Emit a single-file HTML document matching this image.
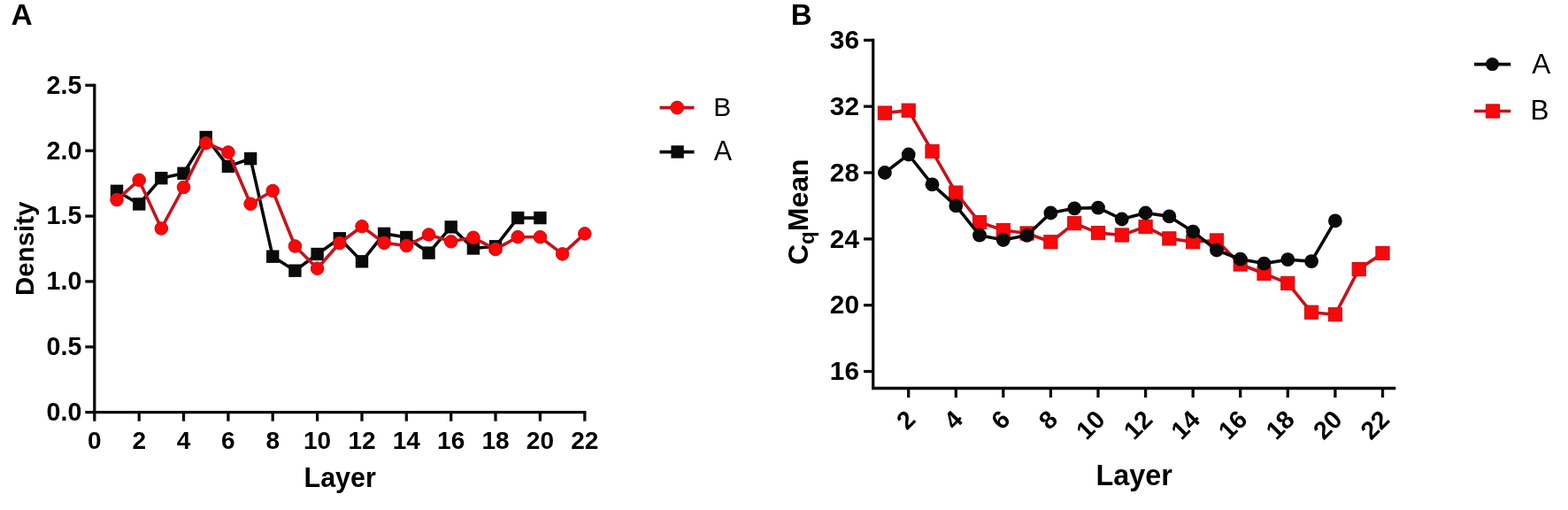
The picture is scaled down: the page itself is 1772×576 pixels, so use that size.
<!DOCTYPE html>
<html><head><meta charset="utf-8"><title>Density and Cq Mean by Layer</title>
<style>
html,body{margin:0;padding:0;background:#fff;}
body{width:1772px;height:576px;overflow:hidden;}
svg{display:block;}
svg text{font-family:"Liberation Sans", Arial, Helvetica, sans-serif;fill:#000;}
</style></head><body>
<svg width="1772" height="576" viewBox="0 0 1772 576">
<rect width="1772" height="576" fill="#fff"/>
<text x="12.6" y="28.1" font-size="33.5" font-weight="bold">A</text>
<text x="893.8" y="28.2" font-size="33" font-weight="bold">B</text>
<g stroke="#0a0a0a" stroke-width="3.3" fill="none" stroke-linecap="butt">
<line x1="106.8" y1="94.7" x2="106.8" y2="475.7"/>
<line x1="96.3" y1="465.7" x2="662.4" y2="465.7"/>
<line x1="96.3" y1="391.8" x2="106.8" y2="391.8"/>
<line x1="96.3" y1="317.9" x2="106.8" y2="317.9"/>
<line x1="96.3" y1="244.1" x2="106.8" y2="244.1"/>
<line x1="96.3" y1="170.2" x2="106.8" y2="170.2"/>
<line x1="96.3" y1="96.3" x2="106.8" y2="96.3"/>
<line x1="157.2" y1="465.7" x2="157.2" y2="475.7"/>
<line x1="207.5" y1="465.7" x2="207.5" y2="475.7"/>
<line x1="257.9" y1="465.7" x2="257.9" y2="475.7"/>
<line x1="308.2" y1="465.7" x2="308.2" y2="475.7"/>
<line x1="358.6" y1="465.7" x2="358.6" y2="475.7"/>
<line x1="409.0" y1="465.7" x2="409.0" y2="475.7"/>
<line x1="459.3" y1="465.7" x2="459.3" y2="475.7"/>
<line x1="509.7" y1="465.7" x2="509.7" y2="475.7"/>
<line x1="560.0" y1="465.7" x2="560.0" y2="475.7"/>
<line x1="610.4" y1="465.7" x2="610.4" y2="475.7"/>
<line x1="660.8" y1="465.7" x2="660.8" y2="475.7"/>
</g>
<g font-size="28.6" font-weight="bold" text-anchor="end">
<text x="92.3" y="475.0">0.0</text>
<text x="92.3" y="401.1">0.5</text>
<text x="92.3" y="327.2">1.0</text>
<text x="92.3" y="253.4">1.5</text>
<text x="92.3" y="179.5">2.0</text>
<text x="92.3" y="105.6">2.5</text>
</g>
<g font-size="28" font-weight="bold" text-anchor="middle">
<text x="106.8" y="506.5">0</text>
<text x="157.2" y="506.5">2</text>
<text x="207.5" y="506.5">4</text>
<text x="257.9" y="506.5">6</text>
<text x="308.2" y="506.5">8</text>
<text x="358.6" y="506.5">10</text>
<text x="409.0" y="506.5">12</text>
<text x="459.3" y="506.5">14</text>
<text x="509.7" y="506.5">16</text>
<text x="560.0" y="506.5">18</text>
<text x="610.4" y="506.5">20</text>
<text x="660.8" y="506.5">22</text>
</g>
<text x="384.2" y="549.9" font-size="30.5" font-weight="bold" text-anchor="middle">Layer</text>
<text transform="translate(38.3 280.8) rotate(-90)" font-size="29.4" font-weight="bold" text-anchor="middle">Density</text>
<polyline points="132.0,215.8 157.2,230.5 182.3,201.2 207.5,195.8 232.7,155.0 257.9,187.9 283.1,179.2 308.2,289.7 333.4,305.7 358.6,287.0 383.8,269.2 409.0,295.3 434.1,263.9 459.3,268.0 484.5,285.6 509.7,256.4 534.9,280.5 560.0,278.3 585.2,246.1 610.4,246.1" fill="none" stroke="#0a0a0a" stroke-width="3.6" stroke-linejoin="round"/>
<rect x="124.8" y="208.6" width="14.4" height="14.4" fill="#0a0a0a"/>
<rect x="150.0" y="223.3" width="14.4" height="14.4" fill="#0a0a0a"/>
<rect x="175.1" y="194.0" width="14.4" height="14.4" fill="#0a0a0a"/>
<rect x="200.3" y="188.6" width="14.4" height="14.4" fill="#0a0a0a"/>
<rect x="225.5" y="147.8" width="14.4" height="14.4" fill="#0a0a0a"/>
<rect x="250.7" y="180.7" width="14.4" height="14.4" fill="#0a0a0a"/>
<rect x="275.9" y="172.0" width="14.4" height="14.4" fill="#0a0a0a"/>
<rect x="301.0" y="282.5" width="14.4" height="14.4" fill="#0a0a0a"/>
<rect x="326.2" y="298.5" width="14.4" height="14.4" fill="#0a0a0a"/>
<rect x="351.4" y="279.8" width="14.4" height="14.4" fill="#0a0a0a"/>
<rect x="376.6" y="262.1" width="14.4" height="14.4" fill="#0a0a0a"/>
<rect x="401.8" y="288.1" width="14.4" height="14.4" fill="#0a0a0a"/>
<rect x="426.9" y="256.7" width="14.4" height="14.4" fill="#0a0a0a"/>
<rect x="452.1" y="260.8" width="14.4" height="14.4" fill="#0a0a0a"/>
<rect x="477.3" y="278.4" width="14.4" height="14.4" fill="#0a0a0a"/>
<rect x="502.5" y="249.2" width="14.4" height="14.4" fill="#0a0a0a"/>
<rect x="527.7" y="273.3" width="14.4" height="14.4" fill="#0a0a0a"/>
<rect x="552.8" y="271.1" width="14.4" height="14.4" fill="#0a0a0a"/>
<rect x="578.0" y="238.9" width="14.4" height="14.4" fill="#0a0a0a"/>
<rect x="603.2" y="238.9" width="14.4" height="14.4" fill="#0a0a0a"/>
<polyline points="132.0,225.6 157.2,203.4 182.3,258.0 207.5,211.5 232.7,161.7 257.9,172.0 283.1,230.3 308.2,215.5 333.4,278.0 358.6,303.2 383.8,274.5 409.0,255.7 434.1,274.4 459.3,277.5 484.5,265.0 509.7,272.8 534.9,268.3 560.0,281.6 585.2,267.7 610.4,267.7 635.6,286.9 660.8,263.9" fill="none" stroke="#c4141c" stroke-width="3.6" stroke-linejoin="round"/>
<circle cx="132.0" cy="225.6" r="7.3" fill="#f80808" stroke="#d00c14" stroke-width="1"/>
<circle cx="157.2" cy="203.4" r="7.3" fill="#f80808" stroke="#d00c14" stroke-width="1"/>
<circle cx="182.3" cy="258.0" r="7.3" fill="#f80808" stroke="#d00c14" stroke-width="1"/>
<circle cx="207.5" cy="211.5" r="7.3" fill="#f80808" stroke="#d00c14" stroke-width="1"/>
<circle cx="232.7" cy="161.7" r="7.3" fill="#f80808" stroke="#d00c14" stroke-width="1"/>
<circle cx="257.9" cy="172.0" r="7.3" fill="#f80808" stroke="#d00c14" stroke-width="1"/>
<circle cx="283.1" cy="230.3" r="7.3" fill="#f80808" stroke="#d00c14" stroke-width="1"/>
<circle cx="308.2" cy="215.5" r="7.3" fill="#f80808" stroke="#d00c14" stroke-width="1"/>
<circle cx="333.4" cy="278.0" r="7.3" fill="#f80808" stroke="#d00c14" stroke-width="1"/>
<circle cx="358.6" cy="303.2" r="7.3" fill="#f80808" stroke="#d00c14" stroke-width="1"/>
<circle cx="383.8" cy="274.5" r="7.3" fill="#f80808" stroke="#d00c14" stroke-width="1"/>
<circle cx="409.0" cy="255.7" r="7.3" fill="#f80808" stroke="#d00c14" stroke-width="1"/>
<circle cx="434.1" cy="274.4" r="7.3" fill="#f80808" stroke="#d00c14" stroke-width="1"/>
<circle cx="459.3" cy="277.5" r="7.3" fill="#f80808" stroke="#d00c14" stroke-width="1"/>
<circle cx="484.5" cy="265.0" r="7.3" fill="#f80808" stroke="#d00c14" stroke-width="1"/>
<circle cx="509.7" cy="272.8" r="7.3" fill="#f80808" stroke="#d00c14" stroke-width="1"/>
<circle cx="534.9" cy="268.3" r="7.3" fill="#f80808" stroke="#d00c14" stroke-width="1"/>
<circle cx="560.0" cy="281.6" r="7.3" fill="#f80808" stroke="#d00c14" stroke-width="1"/>
<circle cx="585.2" cy="267.7" r="7.3" fill="#f80808" stroke="#d00c14" stroke-width="1"/>
<circle cx="610.4" cy="267.7" r="7.3" fill="#f80808" stroke="#d00c14" stroke-width="1"/>
<circle cx="635.6" cy="286.9" r="7.3" fill="#f80808" stroke="#d00c14" stroke-width="1"/>
<circle cx="660.8" cy="263.9" r="7.3" fill="#f80808" stroke="#d00c14" stroke-width="1"/>
<line x1="745.5" y1="121.6" x2="784.5" y2="121.6" stroke="#c4141c" stroke-width="3.6"/>
<circle cx="765.2" cy="121.6" r="7.4" fill="#f80808" stroke="#d00c14" stroke-width="1"/>
<text x="806.2" y="130.9" font-size="30">B</text>
<line x1="745.5" y1="171.6" x2="784.5" y2="171.6" stroke="#0a0a0a" stroke-width="3.6"/>
<rect x="758.4" y="164.3" width="14.4" height="14.4" fill="#0a0a0a"/>
<text x="806.8" y="181.2" font-size="30.5">A</text>
<g stroke="#0a0a0a" stroke-width="3.3" fill="none" stroke-linecap="butt">
<path d="M986.7 43.8 V438.5 H1577.3"/>
<line x1="976.0" y1="45.4" x2="986.7" y2="45.4"/>
<line x1="976.0" y1="120.2" x2="986.7" y2="120.2"/>
<line x1="976.0" y1="195.0" x2="986.7" y2="195.0"/>
<line x1="976.0" y1="269.9" x2="986.7" y2="269.9"/>
<line x1="976.0" y1="344.7" x2="986.7" y2="344.7"/>
<line x1="976.0" y1="419.5" x2="986.7" y2="419.5"/>
<line x1="1026.7" y1="438.5" x2="1026.7" y2="449.0"/>
<line x1="1080.3" y1="438.5" x2="1080.3" y2="449.0"/>
<line x1="1133.8" y1="438.5" x2="1133.8" y2="449.0"/>
<line x1="1187.4" y1="438.5" x2="1187.4" y2="449.0"/>
<line x1="1241.0" y1="438.5" x2="1241.0" y2="449.0"/>
<line x1="1294.6" y1="438.5" x2="1294.6" y2="449.0"/>
<line x1="1348.2" y1="438.5" x2="1348.2" y2="449.0"/>
<line x1="1401.7" y1="438.5" x2="1401.7" y2="449.0"/>
<line x1="1455.3" y1="438.5" x2="1455.3" y2="449.0"/>
<line x1="1508.9" y1="438.5" x2="1508.9" y2="449.0"/>
<line x1="1562.5" y1="438.5" x2="1562.5" y2="449.0"/>
</g>
<g font-size="29.8" font-weight="bold" text-anchor="end">
<text x="971" y="55.0">36</text>
<text x="971" y="129.8">32</text>
<text x="971" y="204.6">28</text>
<text x="971" y="279.5">24</text>
<text x="971" y="354.3">20</text>
<text x="971" y="429.1">16</text>
</g>
<g font-size="28.5" font-weight="bold" text-anchor="end">
<text transform="translate(1036.2 475.5) rotate(-45)">2</text>
<text transform="translate(1089.8 475.5) rotate(-45)">4</text>
<text transform="translate(1143.3 475.5) rotate(-45)">6</text>
<text transform="translate(1196.9 475.5) rotate(-45)">8</text>
<text transform="translate(1250.5 475.5) rotate(-45)">10</text>
<text transform="translate(1304.1 475.5) rotate(-45)">12</text>
<text transform="translate(1357.7 475.5) rotate(-45)">14</text>
<text transform="translate(1411.2 475.5) rotate(-45)">16</text>
<text transform="translate(1464.8 475.5) rotate(-45)">18</text>
<text transform="translate(1518.4 475.5) rotate(-45)">20</text>
<text transform="translate(1572.0 475.5) rotate(-45)">22</text>
</g>
<text x="1281.7" y="547.7" font-size="32.4" font-weight="bold" text-anchor="middle">Layer</text>
<text transform="translate(913 299) rotate(-90)" font-size="32" font-weight="bold">C<tspan font-size="24" dy="6.5">q</tspan><tspan dy="-6.5">Mean</tspan></text>
<polyline points="999.9,127.6 1026.7,124.7 1053.5,170.9 1080.3,217.6 1107.0,251.0 1133.8,260.0 1160.6,263.5 1187.4,273.3 1214.2,252.2 1241.0,263.1 1267.8,265.5 1294.6,256.1 1321.4,269.4 1348.2,273.3 1375.0,271.5 1401.7,298.5 1428.5,309.0 1455.3,319.9 1482.1,352.8 1508.9,355.2 1535.7,304.1 1562.5,285.9" fill="none" stroke="#c4141c" stroke-width="3.6" stroke-linejoin="round"/>
<rect x="992.3" y="120.0" width="15.2" height="15.2" fill="#f80808" stroke="#d00c14" stroke-width="1"/>
<rect x="1019.1" y="117.1" width="15.2" height="15.2" fill="#f80808" stroke="#d00c14" stroke-width="1"/>
<rect x="1045.9" y="163.3" width="15.2" height="15.2" fill="#f80808" stroke="#d00c14" stroke-width="1"/>
<rect x="1072.7" y="210.0" width="15.2" height="15.2" fill="#f80808" stroke="#d00c14" stroke-width="1"/>
<rect x="1099.5" y="243.4" width="15.2" height="15.2" fill="#f80808" stroke="#d00c14" stroke-width="1"/>
<rect x="1126.2" y="252.4" width="15.2" height="15.2" fill="#f80808" stroke="#d00c14" stroke-width="1"/>
<rect x="1153.0" y="255.9" width="15.2" height="15.2" fill="#f80808" stroke="#d00c14" stroke-width="1"/>
<rect x="1179.8" y="265.7" width="15.2" height="15.2" fill="#f80808" stroke="#d00c14" stroke-width="1"/>
<rect x="1206.6" y="244.6" width="15.2" height="15.2" fill="#f80808" stroke="#d00c14" stroke-width="1"/>
<rect x="1233.4" y="255.5" width="15.2" height="15.2" fill="#f80808" stroke="#d00c14" stroke-width="1"/>
<rect x="1260.2" y="257.9" width="15.2" height="15.2" fill="#f80808" stroke="#d00c14" stroke-width="1"/>
<rect x="1287.0" y="248.5" width="15.2" height="15.2" fill="#f80808" stroke="#d00c14" stroke-width="1"/>
<rect x="1313.8" y="261.8" width="15.2" height="15.2" fill="#f80808" stroke="#d00c14" stroke-width="1"/>
<rect x="1340.6" y="265.7" width="15.2" height="15.2" fill="#f80808" stroke="#d00c14" stroke-width="1"/>
<rect x="1367.4" y="263.9" width="15.2" height="15.2" fill="#f80808" stroke="#d00c14" stroke-width="1"/>
<rect x="1394.1" y="290.9" width="15.2" height="15.2" fill="#f80808" stroke="#d00c14" stroke-width="1"/>
<rect x="1420.9" y="301.4" width="15.2" height="15.2" fill="#f80808" stroke="#d00c14" stroke-width="1"/>
<rect x="1447.7" y="312.3" width="15.2" height="15.2" fill="#f80808" stroke="#d00c14" stroke-width="1"/>
<rect x="1474.5" y="345.1" width="15.2" height="15.2" fill="#f80808" stroke="#d00c14" stroke-width="1"/>
<rect x="1501.3" y="347.6" width="15.2" height="15.2" fill="#f80808" stroke="#d00c14" stroke-width="1"/>
<rect x="1528.1" y="296.5" width="15.2" height="15.2" fill="#f80808" stroke="#d00c14" stroke-width="1"/>
<rect x="1554.9" y="278.3" width="15.2" height="15.2" fill="#f80808" stroke="#d00c14" stroke-width="1"/>
<polyline points="999.9,195.0 1026.7,174.5 1053.5,208.3 1080.3,232.4 1107.0,265.7 1133.8,271.0 1160.6,265.8 1187.4,240.5 1214.2,235.3 1241.0,234.6 1267.8,247.5 1294.6,240.5 1321.4,244.4 1348.2,261.6 1375.0,282.5 1401.7,292.7 1428.5,297.6 1455.3,293.2 1482.1,295.1 1508.9,249.4" fill="none" stroke="#0a0a0a" stroke-width="3.6" stroke-linejoin="round"/>
<circle cx="999.9" cy="195.0" r="7.9" fill="#0a0a0a"/>
<circle cx="1026.7" cy="174.5" r="7.9" fill="#0a0a0a"/>
<circle cx="1053.5" cy="208.3" r="7.9" fill="#0a0a0a"/>
<circle cx="1080.3" cy="232.4" r="7.9" fill="#0a0a0a"/>
<circle cx="1107.0" cy="265.7" r="7.9" fill="#0a0a0a"/>
<circle cx="1133.8" cy="271.0" r="7.9" fill="#0a0a0a"/>
<circle cx="1160.6" cy="265.8" r="7.9" fill="#0a0a0a"/>
<circle cx="1187.4" cy="240.5" r="7.9" fill="#0a0a0a"/>
<circle cx="1214.2" cy="235.3" r="7.9" fill="#0a0a0a"/>
<circle cx="1241.0" cy="234.6" r="7.9" fill="#0a0a0a"/>
<circle cx="1267.8" cy="247.5" r="7.9" fill="#0a0a0a"/>
<circle cx="1294.6" cy="240.5" r="7.9" fill="#0a0a0a"/>
<circle cx="1321.4" cy="244.4" r="7.9" fill="#0a0a0a"/>
<circle cx="1348.2" cy="261.6" r="7.9" fill="#0a0a0a"/>
<circle cx="1375.0" cy="282.5" r="7.9" fill="#0a0a0a"/>
<circle cx="1401.7" cy="292.7" r="7.9" fill="#0a0a0a"/>
<circle cx="1428.5" cy="297.6" r="7.9" fill="#0a0a0a"/>
<circle cx="1455.3" cy="293.2" r="7.9" fill="#0a0a0a"/>
<circle cx="1482.1" cy="295.1" r="7.9" fill="#0a0a0a"/>
<circle cx="1508.9" cy="249.4" r="7.9" fill="#0a0a0a"/>
<line x1="1666" y1="72.6" x2="1707.3" y2="72.6" stroke="#0a0a0a" stroke-width="3.6"/>
<circle cx="1686.5" cy="72.6" r="7.5" fill="#0a0a0a"/>
<text x="1731.2" y="83" font-size="31.5">A</text>
<line x1="1666" y1="125.5" x2="1707.3" y2="125.5" stroke="#c4141c" stroke-width="3.6"/>
<rect x="1679.4" y="117.9" width="15.2" height="15.2" fill="#f80808" stroke="#d00c14" stroke-width="1"/>
<text x="1729.6" y="135.4" font-size="31.5">B</text>
</svg>
</body></html>
